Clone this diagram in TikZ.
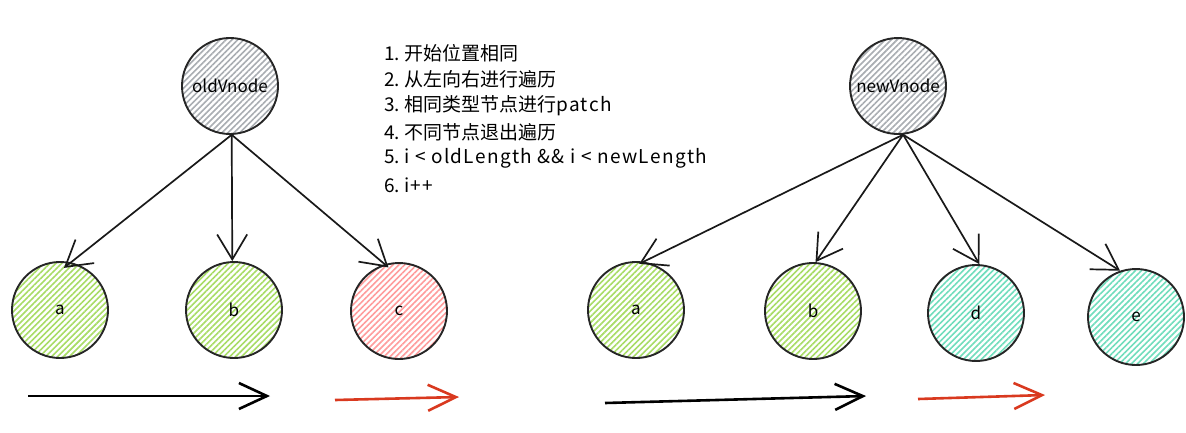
\documentclass[tikz,border=0pt]{standalone}
\usepackage{fontspec}
\setmainfont{Noto Sans CJK SC}
\newfontfamily\latwide[LetterSpace=7]{Noto Sans CJK SC}
\usetikzlibrary{arrows.meta,patterns.meta}
\definecolor{hgray}{HTML}{A9ADB2}
\definecolor{hgreen}{HTML}{A8DC66}
\definecolor{hpink}{HTML}{FF9C9C}
\definecolor{hteal}{HTML}{70DDBC}
\definecolor{ared}{HTML}{D9391F}
\begin{document}
\begin{tikzpicture}[x=1pt,y=-1pt,
  vnode/.style={circle, draw=black!85, line width=1.9pt, minimum size=96pt, inner sep=0pt,
    font=\fontsize{17}{20}\selectfont,
    pattern={Lines[angle=45,distance=4.2pt,line width=1.6pt]}},
  grayfill/.style={pattern color=hgray},
  greenfill/.style={pattern color=hgreen},
  pinkfill/.style={pattern color=hpink},
  tealfill/.style={pattern color=hteal},
  edge/.style={line width=1.7pt, black!90, -{Straight Barb[length=25pt,width=30pt,line width=1.7pt]}},
  flow/.style={line width=2.6pt, -{Straight Barb[length=28pt,width=26pt,line width=2.6pt]}},
  item/.style={anchor=west, inner sep=0pt, font=\fontsize{19}{22}\selectfont}
]
\useasboundingbox (0,0) rectangle (1186,432);

% left tree
\node[vnode,grayfill] (old) at (230,86) {oldVnode};
\node[vnode,greenfill] (la) at (60,310) {a};
\node[vnode,greenfill] (lb) at (234,310) {b};
\node[vnode,pinkfill] (lc) at (399,311) {c};

\draw[edge, shorten >=-9pt] (old.272) -- (la.77);
\draw[edge] (old.272) -- (lb.92);
\draw[edge, shorten >=-5pt] (old.272) -- (lc.107);

% right tree
\node[vnode,grayfill] (new) at (898,86) {newVnode};
\node[vnode,greenfill] (ra) at (636,310) {a};
\node[vnode,greenfill] (rb) at (813,311) {b};
\node[vnode,tealfill] (rd) at (976,313) {d};
\node[vnode,tealfill] (re) at (1136,317) {e};

\draw[edge, shorten >=-5pt] (new.276) -- (ra.81);
\draw[edge] (new.276) -- (rb.87);
\draw[edge] (new.276) -- (rd.86);
\draw[edge] (new.276) -- (re.109);

% flow arrows
\coordinate (l1s) at (28,396);
\coordinate (l1e) at (270,396);
\coordinate (l2s) at (335,400);
\coordinate (l2e) at (459,397);
\coordinate (r1s) at (605,403);
\coordinate (r1e) at (866,396);
\coordinate (r2s) at (918,399);
\coordinate (r2e) at (1045,395);
\draw[flow, black] (l1s) -- (l1e);
\draw[flow, ared] (l2s) -- (l2e);
\draw[flow, black] (r1s) -- (r1e);
\draw[flow, ared] (r2s) -- (r2e);

% list
\node[item] (t1) at (384,53) {1.\ 开始位置相同};
\node[item] (t2) at (384,79.4) {2.\ 从左向右进行遍历};
\node[item] (t3) at (384,105.8) {3.\ 相同类型节点进行{\latwide patch}};
\node[item] (t4) at (384,132.2) {4.\ 不同节点退出遍历};
\node[item] (t5) at (384,158.6) {5.\ {\latwide i < oldLength \&\& i < newLength}};
\node[item] (t6) at (384,185) {6.\ {\latwide i++}};
\end{tikzpicture}
\end{document}
